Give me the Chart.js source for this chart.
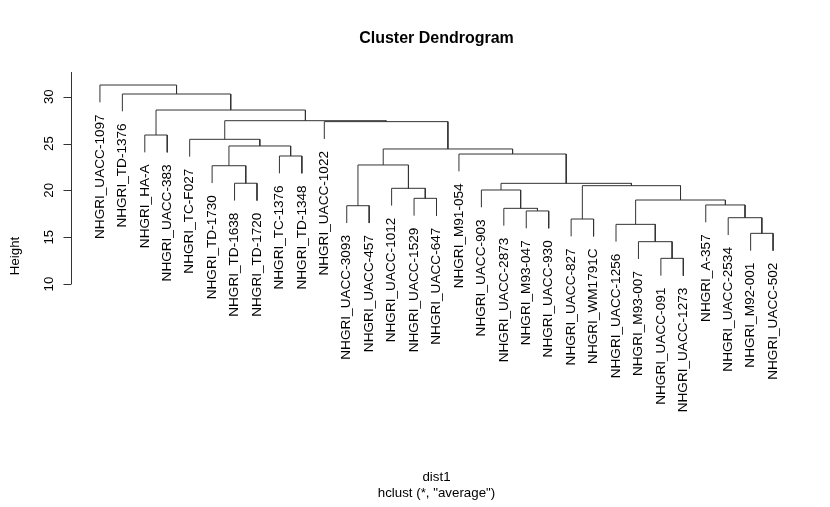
<!DOCTYPE html>
<html><head><meta charset="utf-8">
<script src="https://cdn.jsdelivr.net/npm/chart.js@4"></script>
<style>html,body{margin:0;padding:0;background:#fff;overflow:hidden}</style>
</head><body>
<canvas id="c" width="830" height="507"></canvas>
<script>
// Leaf labels in dendrogram order
const leafLabels = [
  'NHGRI_UACC-1097','NHGRI_TD-1376','NHGRI_HA-A','NHGRI_UACC-383','NHGRI_TC-F027',
  'NHGRI_TD-1730','NHGRI_TD-1638','NHGRI_TD-1720','NHGRI_TC-1376','NHGRI_TD-1348',
  'NHGRI_UACC-1022','NHGRI_UACC-3093','NHGRI_UACC-457','NHGRI_UACC-1012','NHGRI_UACC-1529',
  'NHGRI_UACC-647','NHGRI_M91-054','NHGRI_UACC-903','NHGRI_UACC-2873','NHGRI_M93-047',
  'NHGRI_UACC-930','NHGRI_UACC-827','NHGRI_WM1791C','NHGRI_UACC-1256','NHGRI_M93-007',
  'NHGRI_UACC-091','NHGRI_UACC-1273','NHGRI_A-357','NHGRI_UACC-2534','NHGRI_M92-001',
  'NHGRI_UACC-502'
];
// hclust-style merge table: negative = leaf (1-based position), positive = earlier merge step
const mergeLeft  = [-26,-25,-30,-24,-22,-29,-20,-19,-12,-28, 4,-15,-18,-14, 5,13,-7,-6, 9,-9,-17,19,18,-5,-3,-11,24,25,-2,-1];
const mergeRight = [-27,  1,-31,  2,-23,  3,-21,  7,-13,  6,10,-16,  8, 12,11,15,-8,17,14,-10,16,21,20,23,-4,22,26,27,28,29];
const mergeHeights = [12.74,14.52,15.41,16.37,16.94,17.08,17.80,18.08,18.36,18.44,18.97,19.15,20.04,20.22,20.50,20.75,20.76,22.63,22.71,23.67,23.88,24.42,24.74,25.45,25.91,27.34,27.44,28.58,30.29,31.25];
const yTicks = [10,15,20,25,30];
const titleText = 'Cluster Dendrogram';
const xAxisTitle = 'dist1';
const subTitle = 'hclust (*, "average")';
const yAxisTitle = 'Height';

const hang = 0.1 * (Math.max(...mergeHeights) - Math.min(...mergeHeights));
const nodeX = [];
const leafEnd = new Array(leafLabels.length);
const datasets = [];
function childX(c){ return c < 0 ? -c : nodeX[c-1]; }
for (let i = 0; i < mergeHeights.length; i++) {
  const h = mergeHeights[i];
  const l = mergeLeft[i], r = mergeRight[i];
  const xl = childX(l), xr = childX(r);
  const yl = l < 0 ? h - hang : mergeHeights[l-1];
  const yr = r < 0 ? h - hang : mergeHeights[r-1];
  if (l < 0) leafEnd[-l-1] = h - hang;
  if (r < 0) leafEnd[-r-1] = h - hang;
  nodeX.push((xl + xr) / 2);
  datasets.push({
    data: [{x:xl,y:yl},{x:xl,y:h},{x:xr,y:h},{x:xr,y:yr}],
    showLine: true, borderColor: '#333', borderWidth: 1, pointRadius: 0,
    tension: 0, fill: false
  });
}

const FONT = '"Liberation Sans", Arial, Helvetica, sans-serif';
const textPlugin = {
  id: 'dendroText',
  afterDraw(chart) {
    const ctx = chart.ctx, xs = chart.scales.x, ys = chart.scales.y, ca = chart.chartArea;
    ctx.save();
    ctx.fillStyle = '#000';
    // leaf labels
    ctx.font = '13.6px ' + FONT;
    leafLabels.forEach((lab, i) => {
      const px = xs.getPixelForValue(i + 1);
      const py = ys.getPixelForValue(leafEnd[i]) + 12;
      ctx.save();
      ctx.translate(px, py);
      ctx.rotate(-Math.PI / 2);
      ctx.textAlign = 'right';
      ctx.textBaseline = 'middle';
      ctx.fillText(lab, 0, 0);
      ctx.restore();
    });
    // y axis
    ctx.font = '13.3px ' + FONT;
    const axX = ca.left - 1.5;
    ctx.strokeStyle = '#333';
    ctx.lineWidth = 1;
    ctx.beginPath();
    ctx.moveTo(axX, ys.getPixelForValue(yTicks[0]));
    ctx.lineTo(axX, ca.top);
    yTicks.forEach(t => {
      const py = Math.round(ys.getPixelForValue(t)) + 0.5;
      ctx.moveTo(axX, py);
      ctx.lineTo(axX - 8, py);
    });
    ctx.stroke();
    yTicks.forEach(t => {
      const py = ys.getPixelForValue(t);
      ctx.save();
      ctx.translate(49, py);
      ctx.rotate(-Math.PI / 2);
      ctx.textAlign = 'center';
      ctx.textBaseline = 'middle';
      ctx.fillText(String(t), 0, 0);
      ctx.restore();
    });
    // y title
    ctx.save();
    ctx.translate(15, 256);
    ctx.rotate(-Math.PI / 2);
    ctx.textAlign = 'center';
    ctx.textBaseline = 'middle';
    ctx.fillText(yAxisTitle, 0, 0);
    ctx.restore();
    // titles
    const cx = (ca.left + ca.right) / 2;
    ctx.textAlign = 'center';
    ctx.textBaseline = 'middle';
    ctx.fillText(xAxisTitle, cx, 477);
    ctx.fillText(subTitle, cx, 493);
    ctx.font = 'bold 16px ' + FONT;
    ctx.fillText(titleText, cx, 39);
    ctx.restore();
  }
};

new Chart(document.getElementById('c'), {
  type: 'scatter',
  data: { datasets },
  options: {
    responsive: false,
    animation: false,
    events: [],
    layout: { padding: { left: 73, right: 30, top: 72, bottom: 223 } },
    plugins: { legend: { display: false }, tooltip: { enabled: false }, title: { display: false } },
    scales: {
      x: { type: 'linear', min: -0.2, max: 32.2, display: false },
      y: { type: 'linear', min: 10, max: 32.64, display: false }
    }
  },
  plugins: [textPlugin]
});
</script>
</body></html>
